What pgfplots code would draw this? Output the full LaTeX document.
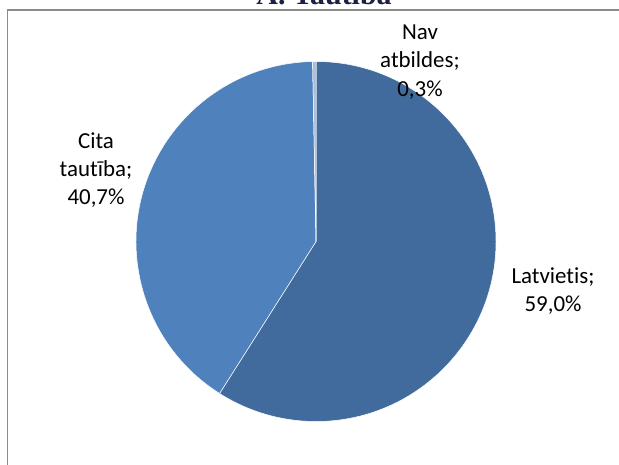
\documentclass[border=0pt]{standalone}
\usepackage{pgfplots}
\pgfplotsset{compat=1.18}
\usepackage{pgfplotstable}
\usepackage{fontspec}
\setmainfont[Ligatures={NoCommon,NoContextual}]{Carlito}
\newfontfamily\titlefont{Liberation Serif}
\definecolor{latv}{HTML}{416B9D}
\definecolor{cita}{HTML}{4F81BD}
\definecolor{nav}{HTML}{A9BCDB}
\definecolor{ttl}{HTML}{1C2143}
\pgfplotstableread{
label value
Latvietis 59.0
Cita 40.7
Nav 0.3
}\piedata
\begin{document}
\begin{tikzpicture}
\pgfplotstablegetelem{0}{value}\of\piedata \let\va\pgfplotsretval
\pgfplotstablegetelem{1}{value}\of\piedata \let\vb\pgfplotsretval
\pgfplotstablegetelem{2}{value}\of\piedata \let\vc\pgfplotsretval
\pgfmathsetmacro\aone{90-3.6*\va}
\pgfmathsetmacro\atwo{\aone-3.6*\vb}
\pgfmathsetmacro\athree{\atwo-3.6*\vc}
\begin{axis}[
  at={(0,0)}, anchor=south west,
  scale only axis, width=619bp, height=465bp,
  xmin=0, xmax=619, ymin=0, ymax=465,
  hide axis, clip=false,
]
% frame
\draw[gray!90, line width=1.5pt] (7.5,-20) -- (7.5,455) -- (640,455);
% title
\node[font=\titlefont\bfseries\fontsize{30}{34}\selectfont, text=ttl, anchor=base] at (324,460) {A. Tautība};
% slices
\fill[latv, draw=white, line width=0.5pt] (316,223.5) -- ++(90:180bp) arc[start angle=90, end angle=\aone, radius=180bp] -- cycle;
\fill[cita, draw=white, line width=0.5pt] (316,223.5) -- ++(\aone:180bp) arc[start angle=\aone, end angle=\atwo, radius=180bp] -- cycle;
\fill[nav, draw=white, line width=0.5pt] (316,223.5) -- ++(\atwo:180bp) arc[start angle=\atwo, end angle=\athree, radius=180bp] -- cycle;
% labels
\node[align=center, font=\fontsize{23}{28.5}\selectfont, anchor=center] at (420,403) {Nav\\atbildes;\\0,3\%};
\node[align=center, font=\fontsize{23}{28.5}\selectfont, anchor=center] at (96,295) {Cita\\tautība;\\40,7\%};
\node[align=center, font=\fontsize{23}{28.5}\selectfont, anchor=center] at (553,174) {Latvietis;\\59,0\%};
\end{axis}
\pgfresetboundingbox
\useasboundingbox (0,0) rectangle (619bp,465bp);
\end{tikzpicture}
\end{document}
